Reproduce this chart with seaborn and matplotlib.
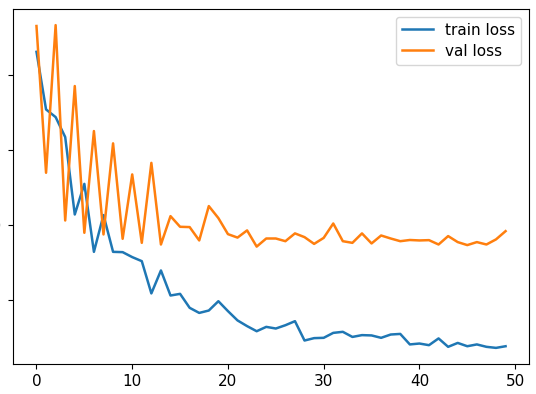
import numpy as np
import pandas as pd
import matplotlib
matplotlib.use("Agg")
import matplotlib.pyplot as plt
import seaborn as sns

# loss values per epoch
epochs = list(range(50))
train_loss = [2.155, 1.771, 1.720, 1.587, 1.071, 1.275, 0.822, 1.067, 0.822, 0.820,
              0.787, 0.760, 0.545, 0.698, 0.531, 0.542, 0.449, 0.415, 0.431, 0.493,
              0.427, 0.365, 0.327, 0.293, 0.322, 0.311, 0.333, 0.360, 0.231, 0.247,
              0.249, 0.282, 0.289, 0.255, 0.267, 0.265, 0.249, 0.271, 0.275, 0.205,
              0.211, 0.200, 0.245, 0.189, 0.215, 0.193, 0.205, 0.189, 0.182, 0.193]
val_loss = [2.327, 1.349, 2.333, 1.031, 1.927, 0.949, 1.627, 0.938, 1.545, 0.909,
            1.338, 0.882, 1.415, 0.871, 1.060, 0.989, 0.987, 0.898, 1.127, 1.047,
            0.940, 0.917, 0.965, 0.857, 0.911, 0.911, 0.893, 0.945, 0.920, 0.875,
            0.915, 1.011, 0.893, 0.882, 0.945, 0.878, 0.931, 0.911, 0.893, 0.901,
            0.898, 0.900, 0.871, 0.927, 0.887, 0.867, 0.887, 0.871, 0.905, 0.960]
y_ticks = [0.5, 1.0, 1.5, 2.0]

df = pd.DataFrame({'epoch': epochs, 'train': train_loss, 'val': val_loss})

plt.rcParams['font.size'] = 11

fig = plt.figure(figsize=(5.36, 3.94), dpi=100)
ax = fig.add_axes([0.0243, 0.0761, 0.9627, 0.9011])

sns.lineplot(data=df, x='epoch', y='train', color='tab:blue', label='train loss', lw=1.8, ax=ax)
sns.lineplot(data=df, x='epoch', y='val', color='tab:orange', label='val loss', lw=1.8, ax=ax)

ax.set_xlabel('')
ax.set_ylabel('')
ax.set_yticks(y_ticks)
ax.tick_params(axis='y', pad=5)
ax.set_xticks([0, 10, 20, 30, 40, 50])
ax.legend(loc='upper right', labelspacing=0.4)

fig.savefig('out.png', dpi=100)
